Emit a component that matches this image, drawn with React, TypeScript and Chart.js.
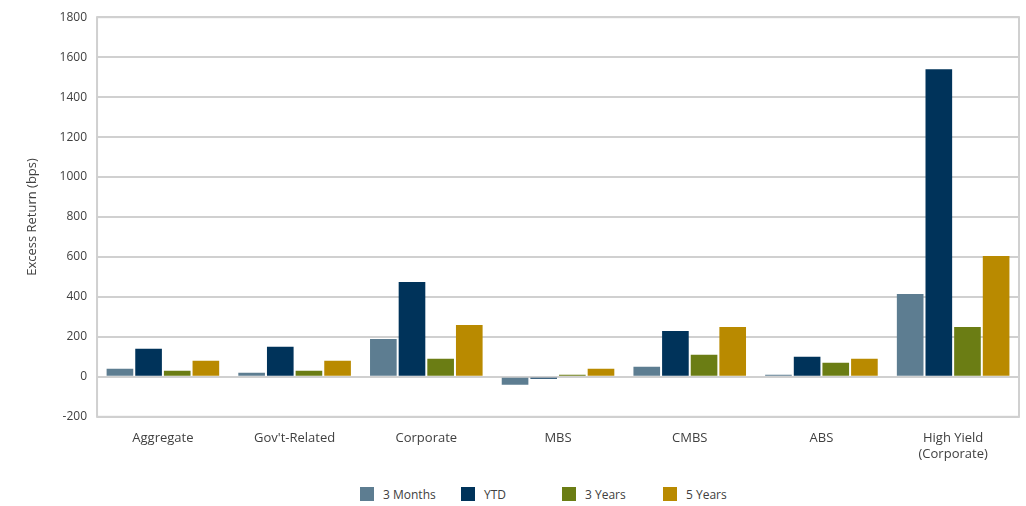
import React, { useEffect, useRef } from "react";
import { Chart, registerables } from "chart.js";

Chart.register(...registerables);

const categories: (string | string[])[] = [
  "Aggregate",
  "Gov't-Related",
  "Corporate",
  "MBS",
  "CMBS",
  "ABS",
  ["High Yield", "(Corporate)"],
];

const threeMonths = [40, 20, 190, -40, 50, 10, 415];
const ytd = [140, 150, 475, -10, 230, 100, 1540];
const threeYears = [30, 30, 90, 10, 110, 70, 250];
const fiveYears = [80, 80, 260, 40, 250, 90, 605];

const seriesNames = ["3 Months", "YTD", "3 Years", "5 Years"];
const seriesColors = ["#5d7d91", "#00335a", "#6b7d14", "#b98a00"];

const FONT = "'Open Sans', Lato, sans-serif";

// outlines the whole plot area so the right edge gets a border too
const frame = {
  id: "frame",
  afterDraw(chart: Chart) {
    const { ctx, chartArea } = chart;
    ctx.save();
    ctx.strokeStyle = "#d0d0d0";
    ctx.lineWidth = 2;
    ctx.strokeRect(chartArea.left, chartArea.top, chartArea.right - chartArea.left, chartArea.bottom - chartArea.top);
    ctx.restore();
  },
};

export default function App() {
  const ref = useRef<HTMLCanvasElement>(null);

  useEffect(() => {
    if (!ref.current) return;
    const values = [threeMonths, ytd, threeYears, fiveYears];
    const chart = new Chart(ref.current, {
      type: "bar",
      data: {
        labels: categories,
        datasets: values.map((v, i) => ({
          label: seriesNames[i],
          data: v,
          backgroundColor: seriesColors[i],
          borderWidth: 0,
          categoryPercentage: 0.87,
          barPercentage: 0.93,
        })),
      },
      options: {
        animation: false,
        responsive: false,
        maintainAspectRatio: false,
        layout: { padding: { top: 0, right: 7, left: 20, bottom: 0 } },
        plugins: {
          legend: { display: false },
          tooltip: { enabled: false },
        },
        scales: {
          x: {
            grid: { display: false },
            border: { display: false },
            ticks: {
              color: "#404040",
              font: { family: FONT, size: 13 },
              padding: 6,
              maxRotation: 0,
              autoSkip: false,
            },
          },
          y: {
            min: -200,
            max: 1800,
            ticks: {
              stepSize: 200,
              color: "#404040",
              font: { family: FONT, size: 12 },
              padding: 10,
              callback: (v: number | string) => String(v),
            },
            grid: { color: "#d0d0d0", lineWidth: 2, drawTicks: false },
            border: { display: false },
            title: {
              display: true,
              text: "Excess Return (bps)",
              color: "#404040",
              font: { family: FONT, size: 13 },
              padding: { bottom: 10 },
            },
          },
        },
      },
      plugins: [frame],
    });
    return () => chart.destroy();
  }, []);

  return (
    <div style={{ position: "absolute", left: 0, top: 0, width: 1026, height: 506, background: "#fff" }}>
      <canvas ref={ref} width={1026} height={468} style={{ display: "block" }} />
      <div style={{ position: "absolute", top: 486, left: 360, display: "flex" }}>
        {seriesNames.map((name, i) => (
          <div key={name} style={{ width: 101, height: 16, display: "flex", alignItems: "center", fontFamily: FONT, fontSize: 12, color: "#404040" }}>
            <span style={{ display: "inline-block", width: 14, height: 14, background: seriesColors[i], marginRight: 9 }} />
            {name}
          </div>
        ))}
      </div>
    </div>
  );
}
